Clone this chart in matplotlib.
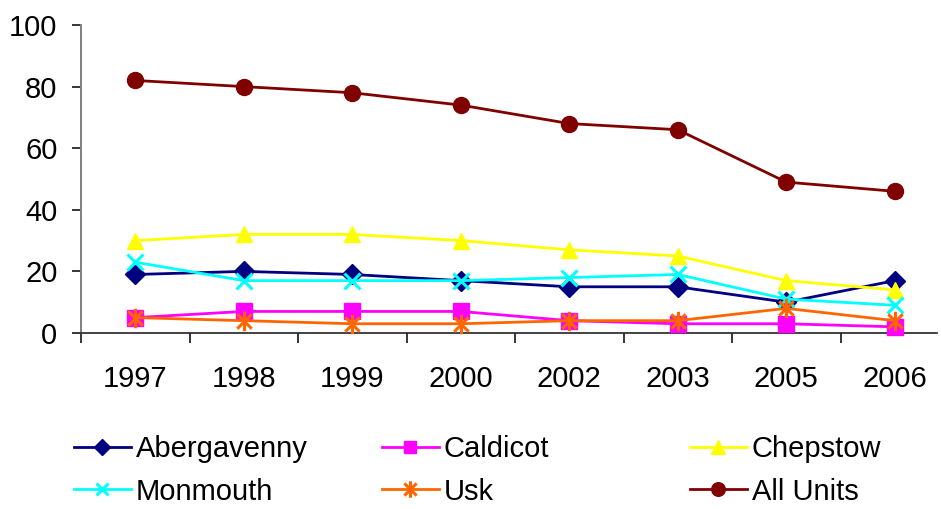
import matplotlib.pyplot as plt
import numpy as np
from matplotlib.path import Path

plt.rcParams['font.family'] = ['Liberation Sans', 'DejaVu Sans']

years = ["1997", "1998", "1999", "2000", "2002", "2003", "2005", "2006"]
abergavenny = [19, 20, 19, 17, 15, 15, 10, 17]
caldicot = [5, 7, 7, 7, 4, 3, 3, 2]
chepstow = [30, 32, 32, 30, 27, 25, 17, 14]
monmouth = [23, 17, 17, 17, 18, 19, 11, 9]
usk = [5, 4, 3, 3, 4, 4, 8, 4]
all_units = [82, 80, 78, 74, 68, 66, 49, 46]

# asterisk marker: an x with a vertical bar through it
star = Path([(-1, -1), (1, 1), (-1, 1), (1, -1), (0, -1.35), (0, 1.35)],
            [Path.MOVETO, Path.LINETO, Path.MOVETO, Path.LINETO, Path.MOVETO, Path.LINETO])

series = [
    ("Abergavenny", abergavenny, "#000080", "D", 10),
    ("Caldicot", caldicot, "#FF00FF", "s", 11),
    ("Chepstow", chepstow, "#FFFF00", "^", 12),
    ("Monmouth", monmouth, "#00FFFF", "x", 11),
    ("Usk", usk, "#FF6600", star, 14),
    ("All Units", all_units, "#800000", "o", 11.5),
]

fig = plt.figure(figsize=(9.41, 5.09), dpi=100)
ax = fig.add_axes([81 / 941, 1 - 333 / 509, 856 / 941, 308 / 509])

x = np.arange(len(years))
handles = []
for name, vals, col, mk, ms in series:
    thin = isinstance(mk, Path) or mk == "x"
    ln, = ax.plot(x, vals, color=col, lw=2, marker=mk, markersize=ms,
                  markeredgewidth=2.2 if thin else 1,
                  markerfacecolor=col, markeredgecolor=col, label=name,
                  clip_on=False, zorder=3)
    handles.append(ln)

ax.set_xlim(-0.5, -0.5 + 856 / 108.5)
ax.set_ylim(0, 100)
ax.set_yticks(range(0, 101, 20))
ax.set_xticks(x)
ax.set_xticklabels(years)
ax.set_xticks(np.arange(-0.5, 7.5, 1), minor=True)
ax.tick_params(axis='x', which='major', length=0, pad=23, labelsize=21)
ax.tick_params(axis='x', which='minor', length=7, width=1.1, direction='out')
ax.tick_params(axis='y', length=6.5, width=1.1, labelsize=21, pad=10.5)

ax.spines['top'].set_visible(False)
ax.spines['right'].set_visible(False)
ax.spines['left'].set_color('#808080')
ax.spines['left'].set_linewidth(1.4)
ax.spines['bottom'].set_color('#222222')
ax.spines['bottom'].set_linewidth(1.2)

# legend laid out in three columns of two rows
col_x = [74 / 941, 382 / 941, 690 / 941]
for i, cx in enumerate(col_x):
    fig.legend(handles=[handles[i], handles[i + 3]], loc='upper left',
               bbox_to_anchor=(cx, 1 - 435 / 509), frameon=False,
               fontsize=21, handlelength=1.95, handletextpad=0.17,
               labelspacing=0.5, borderpad=0, borderaxespad=0,
               markerscale=0.85)

fig.savefig("out.png", dpi=100)
